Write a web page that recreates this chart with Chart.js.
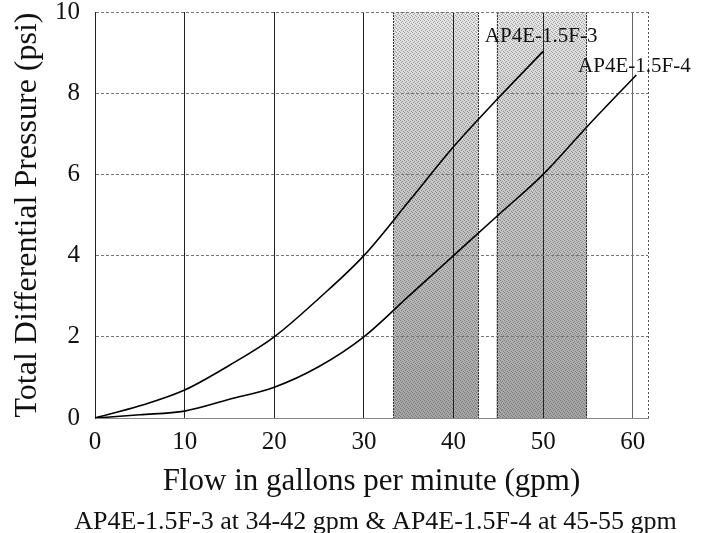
<!DOCTYPE html>
<html>
<head>
<meta charset="utf-8">
<script src="https://cdn.jsdelivr.net/npm/chart.js@4.4.0/dist/chart.umd.min.js"></script>
<style>
  html, body { margin: 0; padding: 0; background: #fff; }
</style>
</head>
<body>
<canvas id="chart" width="705" height="533"></canvas>
<script>
// Pressure drop curves (flow in gpm, pressure in psi)
const flow3 = [0, 5, 10, 15, 20, 25, 30, 35, 40, 45, 50];
const psi3  = [0, 0.3, 0.69, 1.3, 2.0, 2.95, 4.0, 5.33, 6.68, 7.88, 9.03];
const flow4 = [0, 5, 10, 15, 20, 25, 30, 35, 40, 45, 50, 55, 60.4];
const psi4  = [0, 0.08, 0.17, 0.46, 0.76, 1.27, 2.0, 3.0, 4.0, 5.0, 6.0, 7.2, 8.45];
const seriesNames = ['AP4E-1.5F-3', 'AP4E-1.5F-4'];

// shaded operating ranges (gpm)
const bandStart = [33.3, 44.8];
const bandEnd   = [42.8, 54.9];

const xTicks = [0, 10, 20, 30, 40, 50, 60];
const yTicks = [0, 2, 4, 6, 8, 10];

const footnote = 'AP4E-1.5F-3 at 34-42 gpm & AP4E-1.5F-4 at 45-55 gpm';

const serif = "'Liberation Serif', 'Times New Roman', serif";
const ink = '#111';

function toPoints(xs, ys) {
    return xs.map((x, i) => ({ x: x, y: ys[i] }));
}

// stippled grey fill for the ranges
function makeStipple(ctx) {
    const c = document.createElement('canvas');
    c.width = 4; c.height = 4;
    const p = c.getContext('2d');
    p.fillStyle = 'rgba(0,0,0,0.6)';
    p.fillRect(0, 0, 1, 1);
    p.fillRect(2, 1, 1, 1);
    p.fillRect(1, 2, 1, 1);
    p.fillRect(3, 3, 1, 1);
    return ctx.createPattern(c, 'repeat');
}

const bandsPlugin = {
    id: 'bands',
    beforeDraw(chart) {
        const { ctx, chartArea: a, scales: { x } } = chart;
        ctx.save();
        const grad = ctx.createLinearGradient(0, a.top, 0, a.bottom);
        grad.addColorStop(0, '#e6e6e6');
        grad.addColorStop(0.25, '#d2d2d2');
        grad.addColorStop(1, '#a6a6a6');
        const dots = makeStipple(ctx);
        bandStart.forEach((s, i) => {
            const x0 = x.getPixelForValue(s);
            const x1 = x.getPixelForValue(bandEnd[i]);
            ctx.fillStyle = grad;
            ctx.fillRect(x0, a.top, x1 - x0, a.bottom - a.top);
            ctx.globalAlpha = 0.5;
            ctx.fillStyle = dots;
            ctx.fillRect(x0, a.top, x1 - x0, a.bottom - a.top);
            ctx.globalAlpha = 1;
            ctx.strokeStyle = '#333';
            ctx.lineWidth = 1;
            ctx.setLineDash([2, 1]);
            ctx.beginPath();
            ctx.moveTo(Math.round(x0) + 0.5, a.top);
            ctx.lineTo(Math.round(x0) + 0.5, a.bottom);
            ctx.moveTo(Math.round(x1) - 0.5, a.top);
            ctx.lineTo(Math.round(x1) - 0.5, a.bottom);
            ctx.stroke();
        });
        ctx.restore();
    },
    afterDraw(chart) {
        const { ctx, chartArea: a } = chart;
        // dotted right frame
        ctx.save();
        ctx.strokeStyle = '#555';
        ctx.lineWidth = 1;
        ctx.setLineDash([2, 2]);
        ctx.beginPath();
        ctx.moveTo(Math.round(a.right) + 0.5, a.top);
        ctx.lineTo(Math.round(a.right) + 0.5, a.bottom);
        ctx.stroke();
        ctx.restore();

        // curve labels at the end of each curve
        ctx.save();
        ctx.font = '21px ' + serif;
        ctx.fillStyle = ink;
        ctx.textAlign = 'center';
        ctx.textBaseline = 'alphabetic';
        const lift = [9, 3];
        chart.data.datasets.forEach((ds, i) => {
            const meta = chart.getDatasetMeta(i);
            const last = meta.data[meta.data.length - 1];
            ctx.fillText(seriesNames[i], last.x - 2, last.y - lift[i]);
        });

        // footnote under the axis title
        ctx.font = '26px ' + serif;
        ctx.fillText(footnote, (a.left + a.right) / 2 + 4, 529);
        ctx.restore();
    }
};

new Chart(document.getElementById('chart'), {
    type: 'line',
    data: {
        datasets: [
            {
                label: seriesNames[0],
                data: toPoints(flow3, psi3),
                borderColor: '#000',
                borderWidth: 1.6,
                pointRadius: 0,
                cubicInterpolationMode: 'monotone'
            },
            {
                label: seriesNames[1],
                data: toPoints(flow4, psi4),
                borderColor: '#000',
                borderWidth: 1.6,
                pointRadius: 0,
                cubicInterpolationMode: 'monotone'
            }
        ]
    },
    options: {
        responsive: false,
        animation: false,
        layout: { padding: { left: 0, right: 57, top: 12, bottom: 0 } },
        plugins: {
            legend: { display: false },
            tooltip: { enabled: false }
        },
        scales: {
            x: {
                type: 'linear',
                min: 0,
                max: 61.7,
                afterBuildTicks(s) { s.ticks = xTicks.map(v => ({ value: v })); },
                afterFit(s) { s.height = 115; },
                ticks: {
                    includeBounds: false,
                    color: ink,
                    padding: 9,
                    maxRotation: 0,
                    font: { family: serif, size: 25 }
                },
                grid: {
                    color: c => (c.tick && c.tick.value === 60) ? '#666' : '#222',
                    lineWidth: 1,
                    drawTicks: false
                },
                border: { color: '#888', width: 1 },
                title: {
                    display: true,
                    text: 'Flow in gallons per minute (gpm)',
                    color: ink,
                    font: { family: serif, size: 31 },
                    padding: { top: 0, bottom: 33 }
                }
            },
            y: {
                min: 0,
                max: 10,
                afterBuildTicks(s) { s.ticks = yTicks.map(v => ({ value: v })); },
                afterFit(s) {
                    s.width = 95;
                    s.paddingTop = 0;
                    s.paddingBottom = 0;
                },
                ticks: {
                    color: ink,
                    padding: 15,
                    font: { family: serif, size: 25 }
                },
                grid: { color: '#777', lineWidth: 1, drawTicks: false },
                border: { color: '#222', width: 1, dash: [3, 2] },
                title: {
                    display: true,
                    text: 'Total Differential Pressure (psi)',
                    color: ink,
                    font: { family: serif, size: 32 },
                    padding: { top: 8, bottom: 0 }
                }
            }
        }
    },
    plugins: [bandsPlugin]
});
</script>
</body>
</html>
